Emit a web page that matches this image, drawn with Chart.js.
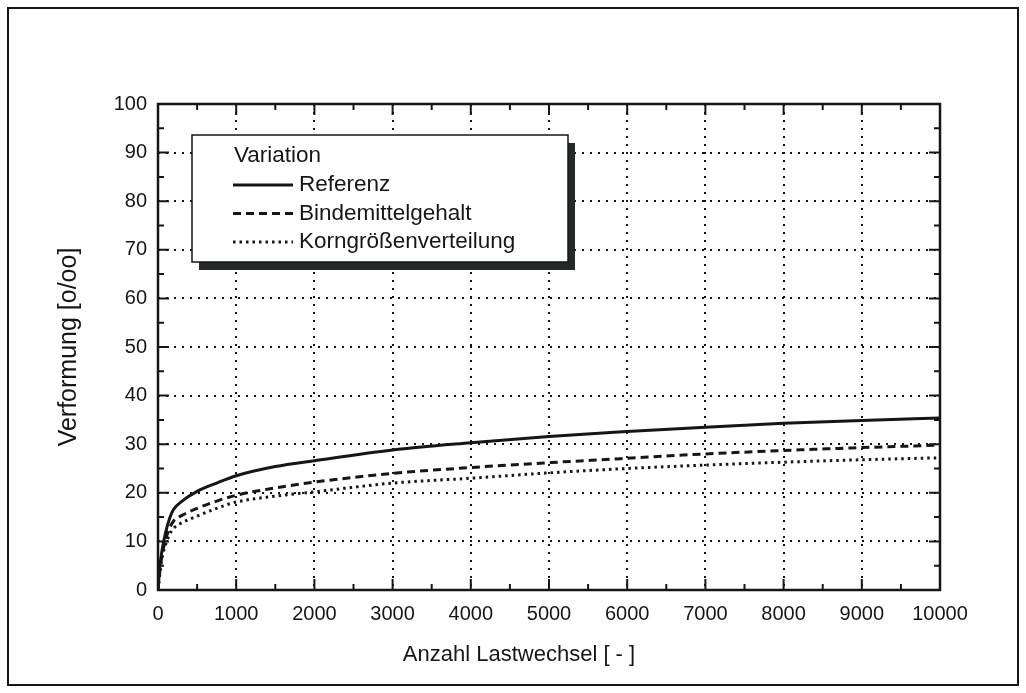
<!DOCTYPE html>
<html>
<head>
<meta charset="utf-8">
<script src="https://cdn.jsdelivr.net/npm/chart.js@4/dist/chart.umd.min.js"></script>
<style>
    body { margin: 0; background: #fff; }
    #wrap { width: 1026px; height: 693px; }
</style>
</head>
<body>
<div id="wrap"><canvas id="lineCanvas" width="1026" height="693"></canvas></div>
<script>
// Lastwechsel (x) und Verformung [o/oo] je Variante
const lastwechsel = [0, 25, 50, 100, 150, 200, 300, 500, 750, 1000, 1500, 2000, 3000, 4000, 5000, 6000, 7000, 8000, 9000, 10000];
const referenz    = [0, 5.0, 8.0, 12.0, 14.8, 16.6, 18.2, 20.3, 22.0, 23.5, 25.4, 26.6, 28.8, 30.3, 31.6, 32.6, 33.5, 34.3, 34.9, 35.4];
const bindemittel = [0, 4.0, 7.0, 10.5, 12.8, 14.2, 15.3, 16.8, 18.3, 19.5, 21.0, 22.2, 24.0, 25.2, 26.2, 27.1, 28.0, 28.7, 29.3, 29.8];
const korngroesse = [0, 3.5, 6.5, 9.5, 11.5, 12.7, 13.8, 15.2, 16.8, 18.1, 19.3, 20.2, 22.0, 23.0, 24.1, 25.0, 25.7, 26.3, 26.8, 27.2];

const serienNamen = ["Referenz", "Bindemittelgehalt", "Korngrößenverteilung"];
const xTicks = [0, 1000, 2000, 3000, 4000, 5000, 6000, 7000, 8000, 9000, 10000];
const yTicks = [0, 10, 20, 30, 40, 50, 60, 70, 80, 90, 100];
const xTitel = "Anzahl Lastwechsel [ - ]";
const yTitel = "Verformung [o/oo]";

const FONT = "'Liberation Sans', Arial, sans-serif";
const INK = "#161616";

function punkte(werte) {
    return lastwechsel.map((x, i) => ({ x: x, y: werte[i] }));
}

// Rahmen um das Diagramm + Achsenrahmen mit Teilstrichen nach innen
const rahmen = {
    id: "rahmen",
    beforeDraw(chart) {
        const ctx = chart.ctx;
        ctx.save();
        ctx.fillStyle = "#fff";
        ctx.fillRect(0, 0, chart.width, chart.height);
        ctx.strokeStyle = INK;
        ctx.lineWidth = 2;
        ctx.strokeRect(8, 8, 1010, 677);
        ctx.restore();
    },
    afterDraw(chart) {
        const ctx = chart.ctx;
        const a = chart.chartArea;
        const xs = chart.scales.x, ys = chart.scales.y;
        ctx.save();
        ctx.strokeStyle = INK;
        ctx.lineWidth = 2;
        ctx.beginPath();
        for (let v = 500; v < 10000; v += 500) {
            const px = xs.getPixelForValue(v);
            const len = v % 1000 === 0 ? 11 : 6;
            ctx.moveTo(px, a.bottom); ctx.lineTo(px, a.bottom - len);
            ctx.moveTo(px, a.top); ctx.lineTo(px, a.top + len);
        }
        for (let v = 5; v < 100; v += 5) {
            const py = ys.getPixelForValue(v);
            const len = v % 10 === 0 ? 11 : 6;
            ctx.moveTo(a.left, py); ctx.lineTo(a.left + len, py);
            ctx.moveTo(a.right, py); ctx.lineTo(a.right - len, py);
        }
        ctx.stroke();
        ctx.lineWidth = 2.5;
        ctx.strokeRect(a.left, a.top, a.right - a.left, a.bottom - a.top);

        // x-Achsentitel, mittig unter dem Blatt
        ctx.fillStyle = INK;
        ctx.font = "22px " + FONT;
        ctx.textAlign = "center";
        ctx.textBaseline = "middle";
        ctx.fillText(xTitel, 519, 655);
        ctx.restore();
    }
};

// Legendenkasten mit Schatten
const legende = {
    id: "legende",
    afterDatasetsDraw(chart) {
        const ctx = chart.ctx;
        const bx = 192, by = 135, bw = 376, bh = 127;
        ctx.save();
        ctx.fillStyle = "#262a27";
        ctx.fillRect(bx + 7, by + 8, bw, bh);
        ctx.fillStyle = "#fff";
        ctx.fillRect(bx, by, bw, bh);
        ctx.strokeStyle = INK;
        ctx.lineWidth = 1.5;
        ctx.strokeRect(bx, by, bw, bh);

        ctx.fillStyle = INK;
        ctx.font = "22.5px " + FONT;
        ctx.textBaseline = "middle";
        ctx.fillText("Variation", 234, 156);

        chart.data.datasets.forEach((ds, i) => {
            const y = 185 + i * 28.5;
            ctx.beginPath();
            ctx.setLineDash(ds.borderDash || []);
            ctx.lineWidth = ds.borderWidth;
            ctx.strokeStyle = ds.borderColor;
            ctx.moveTo(233, y);
            ctx.lineTo(293, y);
            ctx.stroke();
            ctx.setLineDash([]);
            ctx.fillText(ds.label, 299, y);
        });
        ctx.restore();
    }
};

const ctx = document.getElementById("lineCanvas").getContext("2d");
new Chart(ctx, {
    type: "line",
    data: {
        datasets: [
            { label: serienNamen[0], data: punkte(referenz), borderColor: INK, borderWidth: 3, borderDash: [] },
            { label: serienNamen[1], data: punkte(bindemittel), borderColor: INK, borderWidth: 3, borderDash: [8, 5] },
            { label: serienNamen[2], data: punkte(korngroesse), borderColor: INK, borderWidth: 3, borderDash: [2.5, 4] }
        ]
    },
    options: {
        responsive: false,
        animation: false,
        cubicInterpolationMode: "monotone",
        pointRadius: 0,
        fill: false,
        layout: { padding: { top: 104, right: 86, left: 0, bottom: 0 } },
        plugins: {
            legend: { display: false },
            tooltip: { enabled: false }
        },
        scales: {
            x: {
                type: "linear",
                min: 0,
                max: 10000,
                afterBuildTicks: (scale) => { scale.ticks = xTicks.map(v => ({ value: v })); },
                afterFit: (scale) => { scale.height = 103; },
                ticks: { color: INK, font: { family: FONT, size: 20 }, padding: 12, maxRotation: 0, autoSkip: false,
                         callback: (v) => String(v) },
                grid: { color: INK, lineWidth: 2, drawTicks: false },
                border: { display: false, dash: [2, 6] }
            },
            y: {
                min: 0,
                max: 100,
                afterBuildTicks: (scale) => { scale.ticks = yTicks.map(v => ({ value: v })); },
                afterFit: (scale) => { scale.width = 158; },
                ticks: { color: INK, font: { family: FONT, size: 20 }, padding: 11, callback: (v) => String(v) },
                grid: { color: INK, lineWidth: 2, drawTicks: false },
                border: { display: false, dash: [2, 6] },
                title: { display: true, text: yTitel, color: INK, font: { family: FONT, size: 25 }, padding: { top: 54 } }
            }
        }
    },
    plugins: [rahmen, legende]
});
</script>
</body>
</html>
